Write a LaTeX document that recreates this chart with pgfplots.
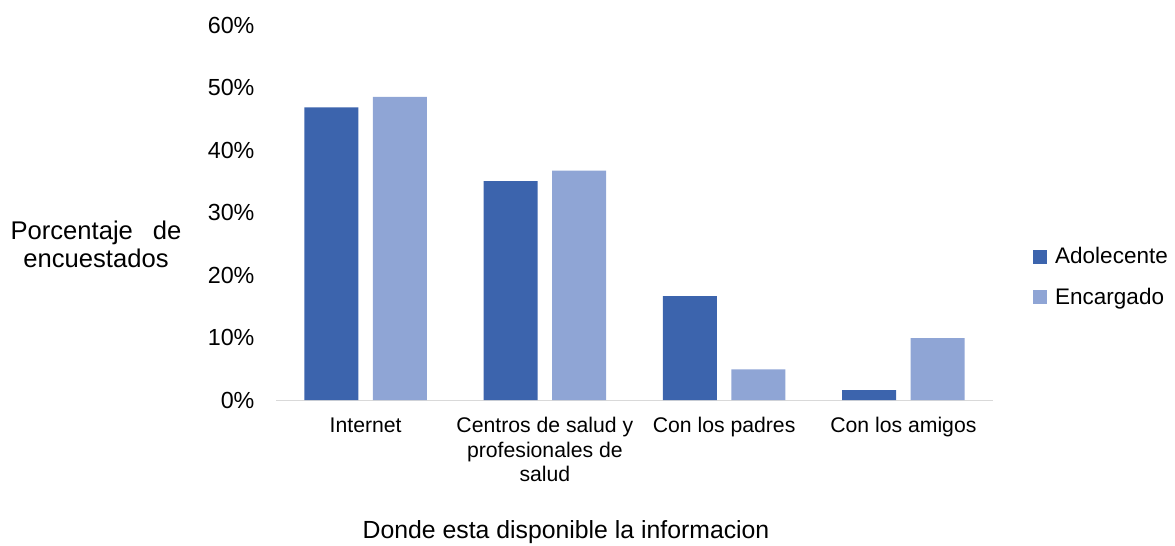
\documentclass[border=0pt]{standalone}
\usepackage{fontspec}
\setmainfont{Liberation Sans}
\usepackage{pgfplots}
\pgfplotsset{compat=1.18}
\definecolor{adol}{RGB}{60,100,173}
\definecolor{enca}{RGB}{143,165,213}
\definecolor{axgray}{RGB}{217,217,217}
\begin{document}
\begin{tikzpicture}
\useasboundingbox (0,0) rectangle (1175pt,546pt);
\begin{axis}[
  at={(276pt,146pt)}, anchor=south west,
  scale only axis, width=717pt, height=375pt,
  xmin=-0.5, xmax=3.5, ymin=0, ymax=60,
  ybar=14.6pt, bar width=54pt,
  xtick={0,1,2,3},
  xticklabels={Internet, {Centros de salud y\\profesionales de\\salud}, Con los padres, Con los amigos},
  xticklabel style={align=center, font=\fontsize{21.2}{24.5}\selectfont, yshift=-14pt},
  ytick={0,10,20,30,40,50,60},
  yticklabel={\pgfmathprintnumber{\tick}\%},
  yticklabel style={font=\fontsize{23.3}{26}\selectfont, xshift=-18pt},
  /pgf/number format/assume math mode=true,
  major tick length=0pt,
  axis x line*=bottom, axis y line*=left,
  x axis line style={draw=axgray, line width=1pt, -},
  y axis line style={draw=none},
  xlabel={Donde esta disponible la informacion},
  ylabel={Porcentaje\hspace{20pt}de\\encuestados},
  every axis x label/.style={at={(rel axis cs:0.4045,-0.352)}, anchor=center, font=\fontsize{24.8}{28}\selectfont},
  every axis y label/.style={at={(rel axis cs:-0.251,0.416)}, anchor=center, align=center, font=\fontsize{25.6}{28}\selectfont},
  legend style={at={(rel axis cs:1.0558,0.328)}, anchor=west, draw=none, font=\fontsize{22.5}{26}\selectfont, row sep=19pt, inner sep=0pt,
    /tikz/every odd column/.append style={column sep=6pt}},
  legend cell align=left,
  legend image code/.code={\fill[#1] (0pt,-7pt) rectangle (14pt,7pt);},
]
\addplot[fill=adol, draw=none] coordinates {(0,46.8) (1,35.0) (2,16.6) (3,1.6)};
\addplot[fill=enca, draw=none] coordinates {(0,48.5) (1,36.7) (2,4.9) (3,9.9)};
\legend{Adolecente, Encargado}
\end{axis}
\end{tikzpicture}
\end{document}
